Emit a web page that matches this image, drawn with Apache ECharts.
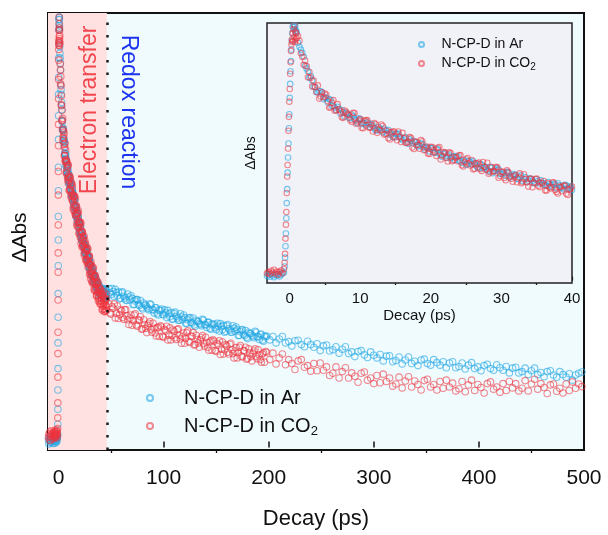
<!DOCTYPE html>
<html>
<head>
<meta charset="utf-8">
<script src="https://cdn.jsdelivr.net/npm/echarts@6/dist/echarts.min.js"></script>
<style>
  html, body { margin: 0; padding: 0; background: #fff; }
  #chart { width: 608px; height: 535px; }
</style>
</head>
<body>
<div id="chart"></div>
<script>
// Transient absorption decay of N-CP-D (ΔAbs, normalised to the peak), Ar vs CO2.

// Delay times (ps), by acquisition segment
const timePre = [-9.6,-9.2,-8.8,-8.4,-8.0,-7.6,-7.2,-6.8,-6.4,-6.0,-5.6,-5.2,-4.8,-4.4,-4.0,
  -3.8,-3.6,-3.4,-3.2,-3.0,-2.8,-2.6,-2.4,-2.2,-2.0,-1.8,-1.6,-1.4,-1.2,-1.0,-0.8];
const timeRise = [-0.70,-0.64,-0.58,-0.52,-0.46,-0.40,-0.34,-0.28,-0.22,-0.16,-0.10,-0.04,0.02,0.08,
  0.14,0.20,0.26,0.32,0.38,0.44,0.50,0.56,0.62,0.68,0.74,0.80,0.86,0.92];
const timeEarly = [1.0,1.4,1.8,2.2,2.6,3.0,3.4,3.8,4.2,4.6,
  5.0,5.4,5.8,6.2,6.6,7.0,7.4,7.8,8.2,8.6,
  9.0,9.4,9.8,10.2,10.6,11.0,11.4,11.8,12.2,12.6,
  13.0,13.4,13.8,14.2,14.6,15.0,15.4,15.8,16.2,16.6,
  17.0,17.4,17.8,18.2,18.6,19.0,19.4,19.8,20.2,20.6,
  21.0,21.4,21.8,22.2,22.6,23.0,23.4,23.8,24.2,24.6,
  25.0,25.4,25.8,26.2,26.6,27.0,27.4,27.8,28.2,28.6,
  29.0,29.4,29.8,30.2,30.6,31.0,31.4,31.8,32.2,32.6,
  33.0,33.4,33.8,34.2,34.6,35.0,35.4,35.8,36.2,36.6,
  37.0,37.4,37.8,38.2,38.6,39.0,39.4,39.8,40.2,40.6,
  41.0,41.4,41.8,42.2,42.6,43.0,43.4,43.8,44.2,44.6,
  45.0,45.4,45.8];
const timeEarlyB = [1.2,1.6,2.0,2.4,2.8,3.2,3.6,4.0,4.4,4.8,
  5.2,5.6,6.0,6.4,6.8,7.2,7.6,8.0,8.4,8.8,
  9.2,9.6,10.0,10.4,10.8,11.2,11.6,12.0,12.4,12.8,
  13.2,13.6,14.0,14.4,14.8,15.2,15.6,16.0,16.4,16.8,
  17.2,17.6,18.0,18.4,18.8,19.2,19.6,20.0,20.4,20.8,
  21.2,21.6,22.0,22.4,22.8,23.2,23.6,24.0,24.4,24.8,
  25.2,25.6,26.0,26.4,26.8,27.2,27.6,28.0,28.4,28.8,
  29.2,29.6,30.0,30.4,30.8,31.2,31.6,32.0,32.4,32.8,
  33.2,33.6,34.0,34.4,34.8,35.2,35.6,36.0,36.4,36.8,
  37.2,37.6,38.0,38.4,38.8,39.2,39.6,40.0,40.4,40.8,
  41.2,41.6,42.0,42.4,42.8,43.2,43.6,44.0,44.4,44.8,
  45.2,45.6];
const timeMid = [48,50,52,54,56,58,60,62,64,66,
  68,70,72,74,76,78,80,82,84,86,
  88,90,92,94,96,98,100,102,104,106,
  108,110,112,114,116,118,120,122,124,126,
  128,130,132,134,136,138,140,142,144,146,
  148,150,152,154,156,158,160,162,164,166,
  168,170,172,174,176,178,180,182,184,186,
  188,190,192,194,196,198];
const timeMidB = [49,51,53,55,57,59,61,63,65,67,
  69,71,73,75,77,79,81,83,85,87,
  89,91,93,95,97,99,101,103,105,107,
  109,111,113,115,117,119,121,123,125,127,
  129,131,133,135,137,139,141,143,145,147,
  149,151,153,155,157,159,161,163,165,167,
  169,171,173,175,177,179,181,183,185,187,
  189,191,193,195,197];
const timeLate = [201,204,207,210,213,216,219,222,225,228,
  231,234,237,240,243,246,249,252,255,258,
  261,264,267,270,273,276,279,282,285,288,
  291,294,297,300,303,306,309,312,315,318,
  321,324,327,330,333,336,339,342,345,348,
  351,354,357,360,363,366,369,372,375,378,
  381,384,387,390,393,396,399,402,405,408,
  411,414,417,420,423,426,429,432,435,438,
  441,444,447,450,453,456,459,462,465,468,
  471,474,477,480,483,486,489,492,495,498];

// N-CP-D in Ar
const arPre = [0.004,-0.006,0.010,0.002,-0.003,0.008,0.012,-0.002,0.005,0.000,0.009,-0.005,0.006,0.011,0.001,
  0.007,-0.004,0.010,0.003,0.008,0.000,0.012,0.005,-0.002,0.009,0.004,0.011,0.001,0.008,0.013,0.016];
const arRise = [0.040,0.075,0.120,0.170,0.230,0.290,0.345,0.410,0.470,0.525,0.585,0.640,0.705,0.760,
  0.810,0.850,0.895,0.930,0.960,0.985,1.005,0.990,1.010,0.985,0.975,0.990,0.965,0.970];
const arEarly = [.961,.906,.883,.832,.810,.791,.749,.728,.731,.726,
  .705,.688,.697,.672,.657,.661,.657,.631,.639,.625,
  .632,.616,.624,.602,.606,.609,.590,.595,.576,.590,
  .576,.584,.563,.568,.552,.563,.564,.544,.545,.528,
  .542,.527,.530,.513,.525,.511,.511,.493,.506,.489,
  .501,.480,.484,.469,.481,.471,.460,.473,.455,.461,
  .441,.457,.444,.447,.431,.445,.428,.432,.416,.429,
  .416,.427,.406,.411,.397,.408,.397,.405,.386,.394,
  .377,.392,.379,.384,.368,.384,.367,.370,.360,.373,
  .360,.366,.348,.360,.350,.362,.348,.356,.340,.350,
  .341,.356,.344,.350,.336,.353,.340,.346,.337,.355,
  .343,.349,.338];
const arEarlyB = [.922,.895,.867,.821,.784,.774,.747,.726,.731,.700,
  .706,.699,.673,.667,.670,.643,.648,.645,.626,.639,
  .620,.605,.620,.607,.596,.603,.603,.585,.577,.583,
  .568,.577,.578,.560,.549,.562,.551,.539,.549,.524,
  .536,.535,.518,.517,.524,.500,.508,.507,.489,.504,
  .486,.473,.488,.476,.467,.474,.475,.457,.449,.457,
  .442,.452,.455,.438,.427,.441,.432,.421,.433,.408,
  .421,.422,.405,.406,.413,.391,.400,.400,.384,.400,
  .383,.372,.388,.378,.369,.377,.380,.364,.358,.366,
  .353,.364,.368,.352,.344,.359,.351,.342,.356,.335,
  .350,.354,.340,.344,.355,.335,.347,.350,.337,.356,
  .341,.332];
const arMid = [.357,.343,.350,.355,.340,.333,.347,.339,.330,.344,
  .330,.334,.320,.331,.320,.329,.309,.319,.314,.307,
  .319,.307,.312,.298,.307,.309,.295,.300,.306,.291,
  .285,.299,.292,.283,.298,.284,.289,.276,.288,.278,
  .288,.269,.280,.276,.270,.283,.272,.278,.264,.274,
  .274,.261,.269,.275,.261,.255,.270,.263,.255,.270,
  .257,.261,.248,.260,.250,.259,.240,.252,.248,.242,
  .255,.244,.250,.236,.246,.246];
const arMidB = [.347,.357,.338,.347,.349,.334,.349,.335,.329,.337,
  .340,.319,.328,.331,.317,.312,.323,.318,.310,.321,
  .308,.300,.312,.295,.305,.297,.307,.289,.298,.301,
  .286,.302,.288,.283,.291,.295,.275,.284,.289,.276,
  .272,.283,.280,.273,.285,.273,.266,.278,.262,.272,
  .265,.276,.258,.268,.271,.257,.273,.260,.255,.264,
  .267,.247,.256,.261,.247,.243,.255,.252,.245,.257,
  .245,.238,.250,.234,.244];
const arLate = [.237,.245,.230,.239,.245,.230,.233,.223,.235,.236,
  .226,.221,.234,.226,.220,.228,.212,.223,.225,.211,
  .214,.221,.206,.215,.221,.205,.209,.198,.210,.212,
  .202,.196,.209,.201,.195,.203,.188,.199,.200,.186,
  .189,.197,.181,.190,.197,.182,.187,.177,.190,.192,
  .182,.178,.191,.184,.178,.186,.172,.183,.186,.172,
  .175,.183,.169,.178,.184,.170,.174,.165,.177,.180,
  .170,.166,.179,.172,.166,.175,.160,.171,.173,.160,
  .163,.171,.156,.165,.171,.156,.161,.151,.163,.165,
  .155,.150,.163,.156,.150,.158,.143,.155,.159,.162];

// N-CP-D in CO2
const co2Pre = [0.010,0.018,0.004,0.022,0.012,0.002,0.016,0.025,0.008,0.014,0.020,0.006,0.019,0.011,0.024,
  0.009,0.015,0.021,0.013,0.018,0.010,0.023,0.016,0.027,0.012,0.020,0.008,0.019,0.024,0.014,0.030];
const co2Rise = [0.055,0.090,0.150,0.205,0.255,0.330,0.395,0.440,0.505,0.575,0.630,0.690,0.740,0.800,
  0.845,0.890,0.915,0.935,0.925,0.960,0.930,0.975,0.945,0.990,0.925,0.965,0.935,0.960];
const co2Early = [.940,.930,.867,.852,.786,.784,.773,.728,.702,.727,
  .722,.693,.667,.696,.656,.658,.628,.655,.642,.618,
  .646,.603,.615,.587,.615,.617,.587,.572,.601,.580,
  .600,.560,.575,.541,.572,.550,.572,.531,.546,.527,
  .550,.509,.533,.519,.539,.499,.513,.484,.511,.489,
  .508,.462,.491,.468,.490,.455,.471,.455,.479,.434,
  .463,.446,.460,.425,.446,.424,.452,.423,.406,.432,
  .415,.432,.397,.413,.380,.411,.386,.396,.372,.407,
  .372,.386,.355,.387,.371,.387,.353,.368,.340,.368,
  .348,.372,.334,.355,.337,.359,.322,.346,.321,.350,
  .328,.341,.309,.343,.322,.339,.309,.326,.303,.331,
  .317,.333,.306];
const co2EarlyB = [.948,.881,.835,.830,.807,.750,.748,.754,.710,.708,
  .717,.667,.686,.654,.680,.651,.626,.650,.637,.611,
  .645,.609,.621,.585,.616,.588,.598,.606,.567,.577,
  .594,.563,.546,.569,.572,.538,.552,.567,.528,.532,
  .547,.503,.531,.504,.534,.508,.486,.512,.500,.476,
  .511,.477,.489,.454,.487,.459,.470,.478,.439,.451,
  .468,.438,.423,.447,.450,.417,.433,.449,.412,.416,
  .432,.390,.414,.389,.419,.395,.374,.401,.391,.368,
  .404,.372,.385,.352,.385,.358,.371,.377,.340,.352,
  .371,.342,.328,.353,.359,.327,.344,.355,.320,.328,
  .346,.307,.338,.316,.350,.321,.303,.333,.326,.306,
  .344,.314];
const co2Mid = [.322,.297,.311,.288,.316,.296,.305,.285,.308,.284,
  .288,.271,.295,.272,.284,.291,.263,.273,.254,.276,
  .261,.276,.253,.265,.245,.267,.243,.258,.237,.265,
  .247,.257,.238,.263,.239,.245,.229,.254,.233,.246,
  .254,.226,.238,.220,.242,.228,.243,.220,.232,.213,
  .234,.210,.225,.203,.232,.214,.223,.204,.229,.205,
  .211,.195,.220,.199,.212,.220,.194,.206,.188,.211,
  .198,.214,.191,.204,.185,.208];
const co2MidB = [.300,.315,.321,.299,.287,.308,.289,.307,.293,.273,
  .295,.282,.298,.269,.282,.262,.284,.264,.271,.280,
  .255,.264,.246,.267,.270,.245,.262,.269,.248,.237,
  .260,.242,.261,.248,.229,.253,.241,.258,.231,.245,
  .225,.248,.230,.237,.247,.222,.231,.213,.235,.237,
  .212,.229,.235,.215,.204,.226,.208,.227,.214,.195,
  .219,.207,.224,.197,.211,.192,.216,.198,.206,.216,
  .193,.202,.185,.207,.210];
const co2Late = [.191,.206,.181,.195,.204,.179,.191,.182,.168,.188,
  .191,.173,.177,.164,.182,.165,.183,.166,.174,.154,
  .159,.174,.148,.163,.172,.148,.160,.152,.138,.159,
  .162,.143,.148,.135,.154,.137,.157,.140,.148,.129,
  .134,.150,.125,.141,.151,.127,.141,.133,.120,.142,
  .145,.127,.133,.120,.140,.124,.143,.127,.136,.118,
  .123,.140,.116,.132,.143,.119,.133,.126,.113,.135,
  .139,.122,.127,.115,.135,.119,.140,.125,.135,.118,
  .124,.142,.118,.134,.145,.122,.135,.126,.112,.132,
  .134,.117,.124,.113,.134,.119,.139,.124,.134,.128];

// Axis ticks
const mainMajorTicks = [0, 100, 200, 300, 400, 500];
const mainMinorTicks = [50, 150, 250, 350, 450];
const insetMajorTicks = [0, 10, 20, 30, 40];
const insetMinorTicks = [5, 15, 25, 35];

// Boundary between the two kinetic regimes (ps)
const regimeBoundary = 46;

const seriesNames = ['N-CP-D in Ar', 'N-CP-D in CO2'];

function pairs(t, v) {
  const n = Math.min(t.length, v.length);
  const out = [];
  for (let i = 0; i < n; i++) out.push([t[i], v[i]]);
  return out;
}

const arPoints = [].concat(
  pairs(timePre, arPre), pairs(timeRise, arRise), pairs(timeEarly, arEarly), pairs(timeEarlyB, arEarlyB),
  pairs(timeMid, arMid), pairs(timeMidB, arMidB), pairs(timeLate, arLate));
const co2Points = [].concat(
  pairs(timePre, co2Pre), pairs(timeRise, co2Rise), pairs(timeEarly, co2Early), pairs(timeEarlyB, co2EarlyB),
  pairs(timeMid, co2Mid), pairs(timeMidB, co2MidB), pairs(timeLate, co2Late));

const FONT = '"Liberation Sans", Arial, Helvetica, sans-serif';
const INK = '#111';
const BLUE = 'rgba(38,168,228,0.78)';
const RED = 'rgba(238,52,62,0.72)';

function legendLabel(name) {
  return name === 'N-CP-D in CO2' ? 'N-CP-D in CO{sub|2}' : name;
}

function scatter(name, data, color, xi, yi, size) {
  return {
    name: name, type: 'scatter', xAxisIndex: xi, yAxisIndex: yi,
    data: data, symbol: 'circle', symbolSize: size, clip: true, z: 3,
    itemStyle: { color: 'transparent', borderColor: color, borderWidth: 1.1 },
    emphasis: { disabled: true }
  };
}

function minorTickAxis(gridIndex, min, max, minorTicks, len) {
  return {
    gridIndex: gridIndex, type: 'value', min: min, max: max, position: 'bottom',
    axisLine: { show: false }, splitLine: { show: false }, axisLabel: { show: false },
    axisTick: { show: true, customValues: minorTicks, length: len, lineStyle: { color: INK, width: 1.3 } }
  };
}

const chart = echarts.init(document.getElementById('chart'), null, { renderer: 'canvas' });

chart.setOption({
  animation: false,
  backgroundColor: '#ffffff',
  grid: [
    { left: 48, top: 13, width: 536, height: 440, show: true, backgroundColor: '#f0fbfe',
      borderColor: INK, borderWidth: 2, z: 0 },
    { left: 267, top: 23, width: 305, height: 260, show: true, backgroundColor: '#f1f1f8',
      borderColor: '#222', borderWidth: 1.5, z: 1 }
  ],
  xAxis: [
    {
      gridIndex: 0, type: 'value', min: -10, max: 500, position: 'bottom',
      axisLine: { show: false }, splitLine: { show: false },
      axisTick: { show: true, customValues: mainMajorTicks, length: 6, lineStyle: { color: INK, width: 1.5 } },
      axisLabel: { customValues: mainMajorTicks, margin: 18, fontSize: 21, color: INK, fontFamily: FONT },
      name: 'Decay (ps)', nameLocation: 'middle', nameGap: 58,
      nameTextStyle: { fontSize: 22, color: INK, fontFamily: FONT }
    },
    minorTickAxis(0, -10, 500, mainMinorTicks, 3),
    {
      gridIndex: 1, type: 'value', min: -3.2, max: 40, position: 'bottom',
      axisLine: { show: false }, splitLine: { show: false },
      axisTick: { show: true, customValues: insetMajorTicks, length: 4, lineStyle: { color: INK, width: 1.2 } },
      axisLabel: { customValues: insetMajorTicks, margin: 8, fontSize: 15, color: INK, fontFamily: FONT },
      name: 'Decay (ps)', nameLocation: 'middle', nameGap: 25,
      nameTextStyle: { fontSize: 15, color: INK, fontFamily: FONT }
    },
    minorTickAxis(1, -3.2, 40, insetMinorTicks, 2)
  ],
  yAxis: [
    {
      gridIndex: 0, type: 'value', min: -0.02, max: 1.0,
      axisLine: { show: false }, axisTick: { show: false }, axisLabel: { show: false }, splitLine: { show: false },
      name: 'ΔAbs', nameLocation: 'middle', nameGap: 17, nameRotate: 90,
      nameTextStyle: { fontSize: 21, color: INK, fontFamily: FONT, padding: [0, 12, 0, 0] }
    },
    {
      gridIndex: 1, type: 'value', min: -0.025, max: 1.0,
      axisLine: { show: false }, axisTick: { show: false }, axisLabel: { show: false }, splitLine: { show: false },
      name: 'ΔAbs', nameLocation: 'middle', nameGap: 9, nameRotate: 90,
      nameTextStyle: { fontSize: 14, color: INK, fontFamily: FONT }
    }
  ],
  legend: [
    {
      data: seriesNames, orient: 'vertical', left: 141, top: 381,
      itemWidth: 58, itemHeight: 6, itemGap: 4, icon: 'circle', selectedMode: false,
      formatter: legendLabel,
      textStyle: { fontSize: 20, color: INK, fontFamily: FONT, lineHeight: 24,
        rich: { sub: { fontSize: 13, fontFamily: FONT, color: INK, verticalAlign: 'bottom', lineHeight: 24 } } }
    },
    {
      data: seriesNames, orient: 'vertical', left: 413, top: 31,
      itemWidth: 30, itemHeight: 5, itemGap: 2, icon: 'circle', selectedMode: false,
      formatter: legendLabel,
      textStyle: { fontSize: 14, color: INK, fontFamily: FONT, lineHeight: 17,
        rich: { sub: { fontSize: 10, fontFamily: FONT, color: INK, verticalAlign: 'bottom', lineHeight: 17 } } }
    }
  ],
  graphic: [
    { type: 'text', x: 90, y: 110, rotation: Math.PI / 2, z: 20,
      style: { text: 'Electron transfer', fill: '#f2464e', fontSize: 23, fontFamily: FONT,
        align: 'center', verticalAlign: 'middle' } },
    { type: 'text', x: 128, y: 112, rotation: -Math.PI / 2, z: 20,
      style: { text: 'Redox reaction', fill: '#1c33f0', fontSize: 23, fontFamily: FONT,
        align: 'center', verticalAlign: 'middle' } }
  ],
  series: [
    // shaded electron-transfer window
    {
      type: 'scatter', xAxisIndex: 0, yAxisIndex: 0, data: [], z: 1, silent: true,
      markArea: { silent: true, itemStyle: { color: '#ffe1e1' },
        data: [[{ xAxis: -10 }, { xAxis: regimeBoundary }]] }
    },
    scatter(seriesNames[0], arPoints, BLUE, 0, 0, 6.5),
    scatter(seriesNames[1], co2Points, RED, 0, 0, 6.5),
    // dotted divider between the regimes
    {
      type: 'scatter', xAxisIndex: 0, yAxisIndex: 0, data: [], z: 6, silent: true,
      markLine: { silent: true, symbol: ['none', 'none'], label: { show: false },
        lineStyle: { color: '#1a1a1a', width: 2.5, type: [2.5, 10] },
        emphasis: { disabled: true },
        data: [{ xAxis: regimeBoundary }] }
    },
    scatter(seriesNames[0], arPoints, BLUE, 2, 1, 5.5),
    scatter(seriesNames[1], co2Points, RED, 2, 1, 5.5)
  ]
});
</script>
</body>
</html>
